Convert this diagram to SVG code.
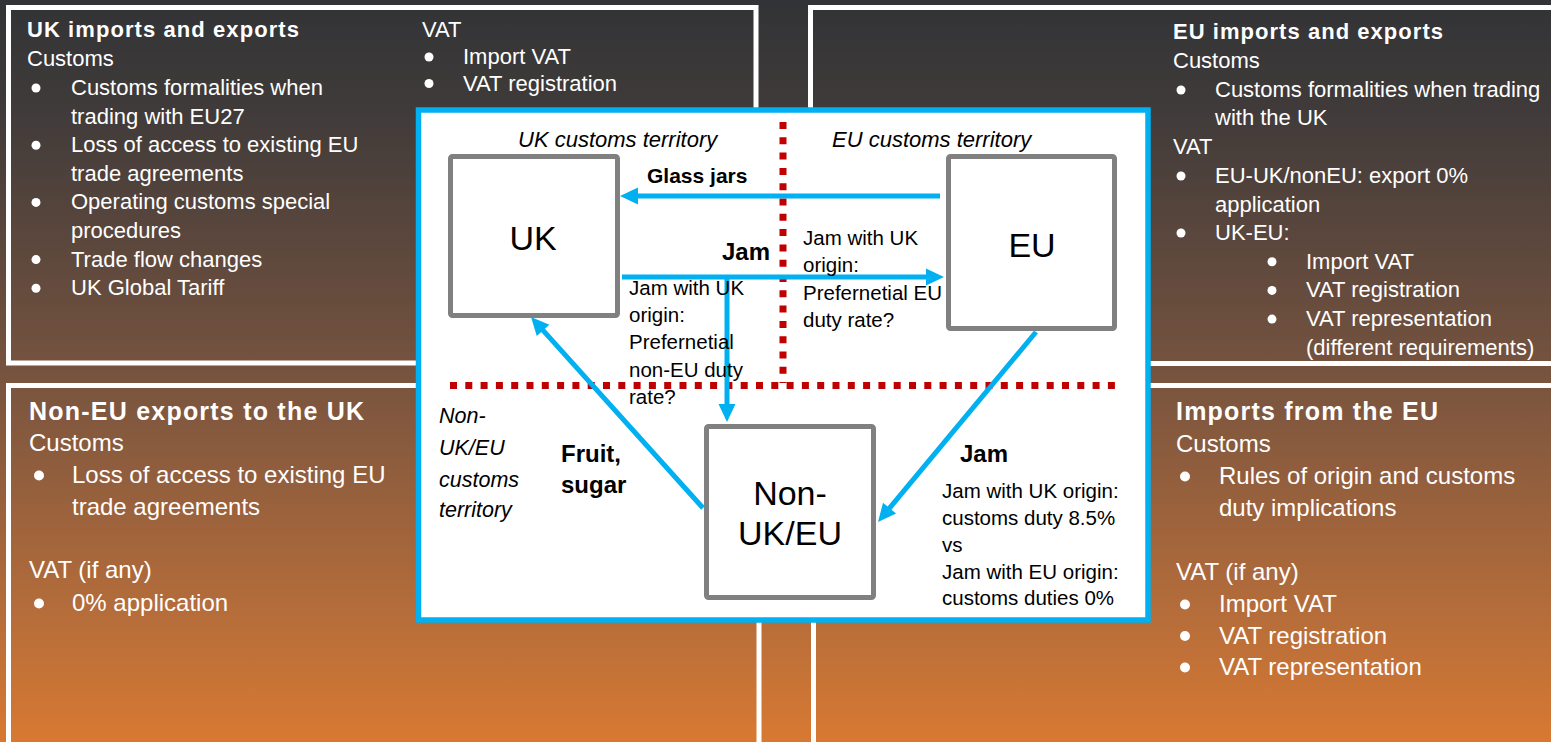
<svg xmlns="http://www.w3.org/2000/svg" width="1551" height="742" viewBox="0 0 1551 742">
<defs>
<linearGradient id="bg" x1="0" y1="0" x2="0" y2="1">
<stop offset="0" stop-color="#323336"/>
<stop offset="0.15" stop-color="#403b3a"/>
<stop offset="0.5" stop-color="#76533F"/>
<stop offset="0.84" stop-color="#B86E3A"/>
<stop offset="1" stop-color="#D87932"/>
</linearGradient>
<marker id="ah" markerUnits="userSpaceOnUse" markerWidth="19" markerHeight="18" refX="1" refY="8.5" orient="auto" overflow="visible">
<path d="M0,0 L18,8.5 L0,17 Z" fill="#00B0F0"/>
</marker>
<style>
.t{font-family:"Liberation Sans",Arial,sans-serif;}
.w{fill:#fff;font-size:22px;}
.wb{fill:#fff;font-size:24px;}
.b{font-weight:bold;}
.i{font-style:italic;}
.k{fill:#000;font-size:20.5px;}
.h25{font-size:25px;}
.s22{font-size:22px;}
.s215{font-size:21.5px;}
.s21{font-size:21px;}
.s24{font-size:24px;}
.big{font-size:34px;text-anchor:middle;}
.panel{fill:none;stroke:#fff;stroke-width:5;}
.box{fill:#fff;stroke:#808080;stroke-width:5;}
.conn{stroke:#00B0F0;stroke-width:5;fill:none;}
.red{stroke:#C00000;stroke-width:7;stroke-dasharray:7 8.3;fill:none;}
.bul{fill:#fff;}
</style>
</defs>
<rect x="0" y="0" width="1551" height="742" fill="url(#bg)"/>

<g id="panel-uk">
<rect class="panel" x="8.5" y="7.5" width="747.5" height="355.5"/>
<text class="t w b" x="27" y="37" textLength="272" lengthAdjust="spacing">UK imports and exports</text>
<text class="t w" x="27" y="66">Customs</text>
<circle class="bul" cx="36" cy="88" r="4.5"/>
<text class="t w" x="71" y="95">Customs formalities when</text>
<text class="t w" x="71" y="123.6">trading with EU27</text>
<circle class="bul" cx="36" cy="145.2" r="4.5"/>
<text class="t w" x="71" y="152.2">Loss of access to existing EU</text>
<text class="t w" x="71" y="180.8">trade agreements</text>
<circle class="bul" cx="36" cy="202.4" r="4.5"/>
<text class="t w" x="71" y="209.4">Operating customs special</text>
<text class="t w" x="71" y="238">procedures</text>
<circle class="bul" cx="36" cy="259.6" r="4.5"/>
<text class="t w" x="71" y="266.6">Trade flow changes</text>
<circle class="bul" cx="36" cy="288.2" r="4.5"/>
<text class="t w" x="71" y="295.2">UK Global Tariff</text>
<text class="t w" x="422" y="37">VAT</text>
<circle class="bul" cx="429" cy="57" r="4.5"/>
<text class="t w" x="463" y="64">Import VAT</text>
<circle class="bul" cx="429" cy="83.5" r="4.5"/>
<text class="t w" x="463" y="90.5">VAT registration</text>
</g>

<g id="panel-eu">
<rect class="panel" x="810.5" y="7.5" width="760" height="356"/>
<text class="t w b" x="1173" y="39" textLength="270" lengthAdjust="spacing">EU imports and exports</text>
<text class="t w" x="1173" y="68">Customs</text>
<circle class="bul" cx="1181" cy="90" r="4.5"/>
<text class="t w" x="1215" y="97">Customs formalities when trading</text>
<text class="t w" x="1215" y="125">with the UK</text>
<text class="t w" x="1173" y="154">VAT</text>
<circle class="bul" cx="1181" cy="176" r="4.5"/>
<text class="t w" x="1215" y="183">EU-UK/nonEU: export 0%</text>
<text class="t w" x="1215" y="212">application</text>
<circle class="bul" cx="1181" cy="233" r="4.5"/>
<text class="t w" x="1215" y="240">UK-EU:</text>
<circle class="bul" cx="1272" cy="261.7" r="4.5"/>
<text class="t w" x="1306" y="268.7">Import VAT</text>
<circle class="bul" cx="1272" cy="290.4" r="4.5"/>
<text class="t w" x="1306" y="297.4">VAT registration</text>
<circle class="bul" cx="1272" cy="319.1" r="4.5"/>
<text class="t w" x="1306" y="326.1">VAT representation</text>
<text class="t w" x="1306" y="354.8">(different requirements)</text>
</g>

<g id="panel-noneu">
<rect class="panel" x="8.5" y="385.5" width="750.5" height="380"/>
<text class="t wb b h25" x="29" y="420" textLength="335" lengthAdjust="spacing">Non-EU exports to the UK</text>
<text class="t wb" x="29" y="451">Customs</text>
<circle class="bul" cx="39" cy="475.5" r="5"/>
<text class="t wb" x="72" y="483">Loss of access to existing EU</text>
<text class="t wb" x="72" y="515">trade agreements</text>
<text class="t wb" x="29" y="578">VAT (if any)</text>
<circle class="bul" cx="39" cy="603.5" r="5"/>
<text class="t wb" x="72" y="611">0% application</text>
</g>

<g id="panel-imports">
<rect class="panel" x="813.5" y="385.5" width="760" height="380"/>
<text class="t wb b h25" x="1176" y="420" textLength="262" lengthAdjust="spacing">Imports from the EU</text>
<text class="t wb" x="1176" y="452">Customs</text>
<circle class="bul" cx="1185" cy="476.5" r="5"/>
<text class="t wb" x="1219" y="484">Rules of origin and customs</text>
<text class="t wb" x="1219" y="516">duty implications</text>
<text class="t wb" x="1176" y="580">VAT (if any)</text>
<circle class="bul" cx="1185" cy="604.5" r="5"/>
<text class="t wb" x="1219" y="612">Import VAT</text>
<circle class="bul" cx="1185" cy="636" r="5"/>
<text class="t wb" x="1219" y="643.5">VAT registration</text>
<circle class="bul" cx="1185" cy="667.5" r="5"/>
<text class="t wb" x="1219" y="675">VAT representation</text>
</g>

<g id="frame">
<rect x="418.5" y="110" width="729.5" height="510" fill="#fff" stroke="#00B0F0" stroke-width="5.5"/>
<line class="red" x1="783" y1="122" x2="783" y2="383"/>
<line class="red" x1="450" y1="385.5" x2="1118" y2="385.5"/>
<text class="t k i s22" x="518" y="147">UK customs territory</text>
<text class="t k i s22" x="832" y="147">EU customs territory</text>
<text class="t k i s215" x="439" y="423">Non-</text>
<text class="t k i s215" x="439" y="455">UK/EU</text>
<text class="t k i s215" x="439" y="487">customs</text>
<text class="t k i s215" x="439" y="517">territory</text>
</g>

<g id="node-uk">
<rect class="box" x="450.5" y="156.5" width="167" height="159" rx="2"/>
<text class="t k big" x="533" y="250">UK</text>
</g>

<g id="node-eu">
<rect class="box" x="948.5" y="156.5" width="166" height="172" rx="2"/>
<text class="t k big" x="1032" y="257">EU</text>
</g>

<g id="node-nonukeu">
<rect class="box" x="706.5" y="426.5" width="167" height="171" rx="2"/>
<text class="t k big" x="790" y="505">Non-</text>
<text class="t k big" x="790" y="545">UK/EU</text>
</g>

<g id="connectors">
<line class="conn" x1="940" y1="196" x2="637" y2="196" marker-end="url(#ah)"/>
<line class="conn" x1="622" y1="277" x2="927" y2="277" marker-end="url(#ah)"/>
<line class="conn" x1="727" y1="277" x2="727" y2="405" marker-end="url(#ah)"/>
<line class="conn" x1="1036" y1="332" x2="888.9" y2="508.9" marker-end="url(#ah)"/>
<line class="conn" x1="703" y1="508" x2="542.4" y2="329.6" marker-end="url(#ah)"/>
</g>

<g id="labels">
<text class="t k b s21" x="647" y="183">Glass jars</text>
<text class="t k b s24" x="722" y="260">Jam</text>
<text class="t k" x="629" y="295">Jam with UK</text>
<text class="t k" x="629" y="322.2">origin:</text>
<text class="t k" x="629" y="349.4">Prefernetial</text>
<text class="t k" x="629" y="376.6">non-EU duty</text>
<text class="t k" x="629" y="403.8">rate?</text>
<text class="t k" x="803" y="245">Jam with UK</text>
<text class="t k" x="803" y="272.3">origin:</text>
<text class="t k" x="803" y="299.6">Prefernetial EU</text>
<text class="t k" x="803" y="326.9">duty rate?</text>
<text class="t k b s24" x="561" y="462">Fruit,</text>
<text class="t k b s24" x="561" y="493">sugar</text>
<text class="t k b s24" x="960" y="462">Jam</text>
<text class="t k" x="942" y="498">Jam with UK origin:</text>
<text class="t k" x="942" y="525">customs duty 8.5%</text>
<text class="t k" x="942" y="552">vs</text>
<text class="t k" x="942" y="579">Jam with EU origin:</text>
<text class="t k" x="942" y="605">customs duties 0%</text>
</g>
</svg>
